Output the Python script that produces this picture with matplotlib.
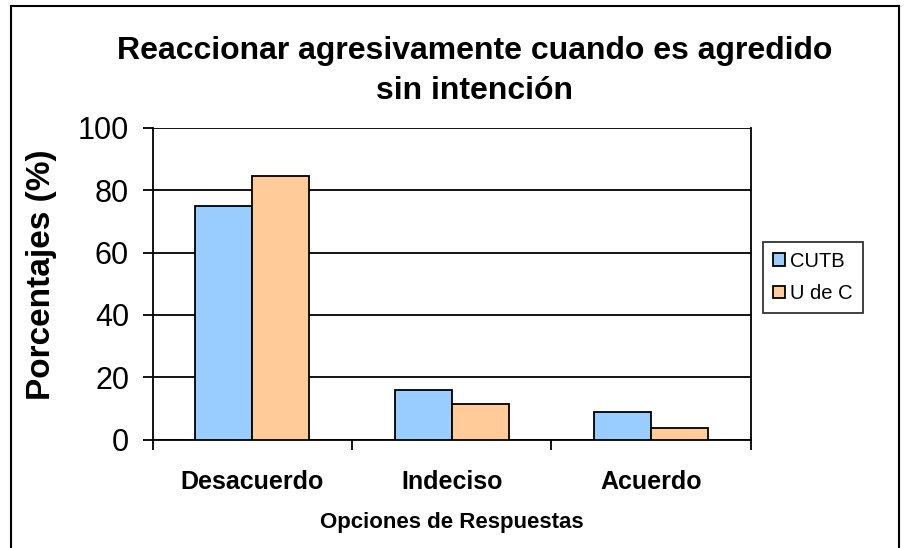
import numpy as np
import matplotlib.pyplot as plt
from matplotlib.lines import Line2D

plt.rcParams['font.family'] = ['Liberation Sans', 'DejaVu Sans']

# data
categories = ['Desacuerdo', 'Indeciso', 'Acuerdo']
cutb = [75, 16, 9]
udec = [84.5, 11.5, 3.8]
series_names = ['CUTB', 'U de C']
yticks = [0, 20, 40, 60, 80, 100]

fig = plt.figure(figsize=(9.11, 5.48), dpi=100)
ax = fig.add_axes([0.1676, 0.1976, 0.6564, 0.5693])

x = np.arange(len(categories))
w = 0.286
ax.bar(x - w / 2, cutb, w, color='#99ccff', edgecolor='black', linewidth=1.3,
       label=series_names[0], zorder=3)
ax.bar(x + w / 2, udec, w, color='#ffcc99', edgecolor='black', linewidth=1.3,
       label=series_names[1], zorder=3)

ax.set_xlim(-0.5, len(categories) - 0.5)
ax.set_ylim(0, 100)
ax.set_yticks(yticks)
ax.tick_params(axis='y', labelsize=22, length=7, width=1.3, direction='out', pad=10)
ax.yaxis.grid(True, color='black', linewidth=1.3, zorder=0)

# category labels centred, tick marks between categories
ax.set_xticks(x)
ax.set_xticklabels(categories, fontsize=18, fontweight='bold')
ax.tick_params(axis='x', length=0, pad=22)
ax.set_xticks(np.arange(-0.5, len(categories)), minor=True)
ax.tick_params(axis='x', which='minor', length=7, width=1.3, direction='out')

for s in ax.spines.values():
    s.set_linewidth(1.3)
ax.spines['top'].set_visible(False)

ax.set_xlabel('Opciones de Respuestas', fontsize=16, fontweight='bold', labelpad=13)
ax.set_ylabel('Porcentajes (%)', fontsize=24, fontweight='bold')
ax.yaxis.set_label_coords(-0.16, 0.53)

fig.text(0.521, 0.871, 'Reaccionar agresivamente cuando es agredido\nsin intención',
         ha='center', va='center', fontsize=23, fontweight='bold', linespacing=1.42)

leg = ax.legend(loc='center left', bbox_to_anchor=(1.02, 0.52), fontsize=14.5,
                frameon=True, fancybox=False, edgecolor='black', borderpad=0.5,
                handlelength=0.6, handleheight=0.6, handletextpad=0.25,
                labelspacing=0.65, borderaxespad=0)
leg.get_frame().set_linewidth(1.3)

# outer frame of the chart
fig.add_artist(Line2D([11 / 911, 11 / 911], [0, 1 - 6 / 548], color='black', lw=1.5))
fig.add_artist(Line2D([11 / 911, 899 / 911], [1 - 6 / 548, 1 - 6 / 548], color='black', lw=1.5))
fig.add_artist(Line2D([899 / 911, 899 / 911], [0, 1 - 6 / 548], color='black', lw=1.5))

fig.savefig('out.png', dpi=100)
